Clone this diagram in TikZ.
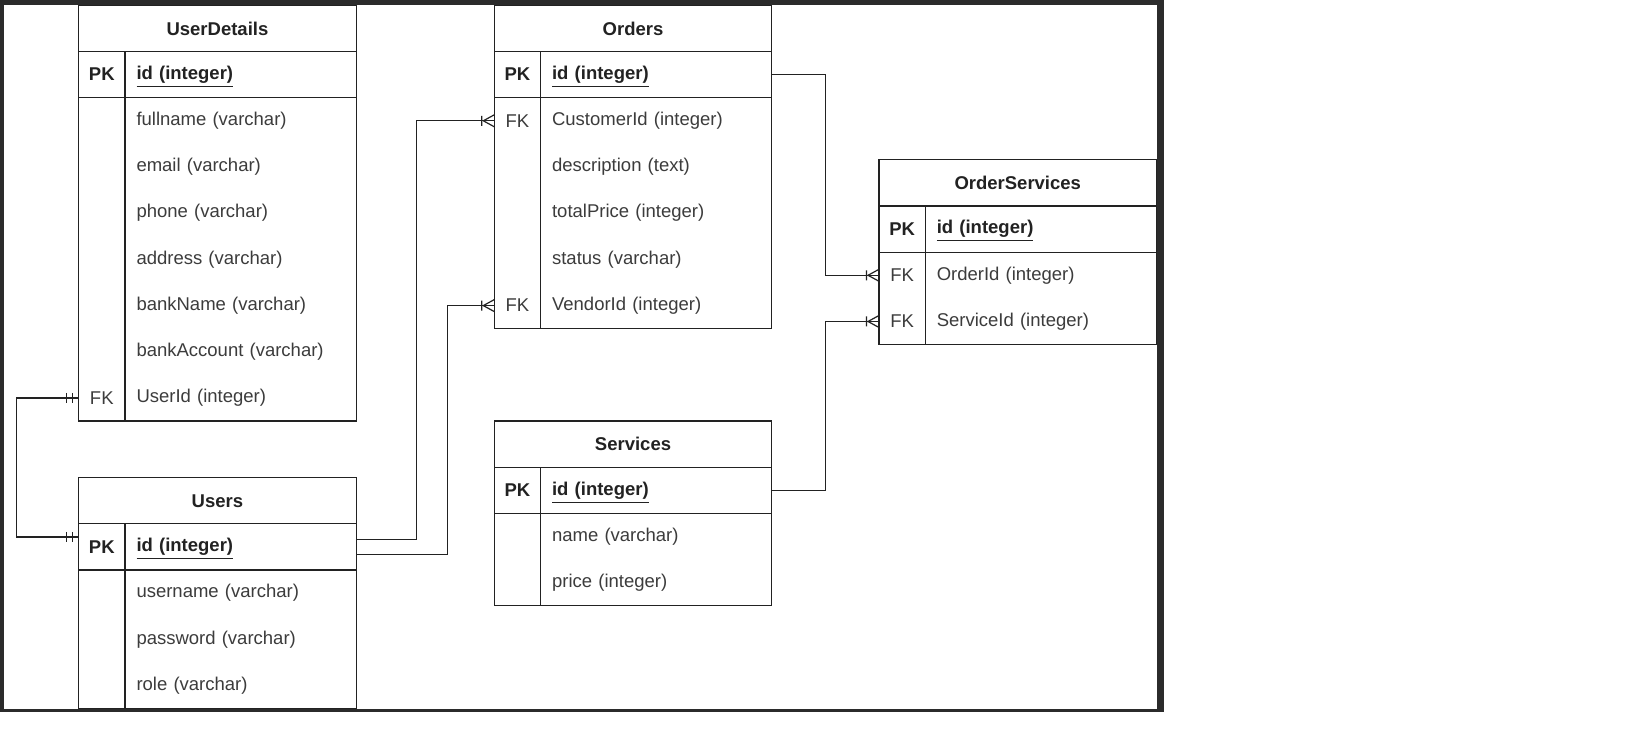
\documentclass[tikz,border=0pt]{standalone}
\usepackage{fontspec}
\setmainfont{Liberation Sans}
\usetikzlibrary{positioning}
\definecolor{framegray}{HTML}{2B2B2B}
\definecolor{linegray}{HTML}{222222}
\definecolor{textgray}{HTML}{3C3C3C}

\begin{document}
\begin{tikzpicture}[x=0.5pt,y=-0.5pt,
  tbl/.style={draw=linegray,line width=0.6pt},
  tabtitle/.style={tbl,anchor=north west,minimum width=138.75pt,minimum height=23.1pt,inner sep=0pt,outer sep=0pt,
    font=\fontsize{9.25}{11}\selectfont\bfseries,text=linegray},
  keycell/.style={minimum width=23.1pt,minimum height=23.1pt,inner sep=0pt,outer sep=0pt,
    font=\fontsize{9.25}{11}\selectfont,text=textgray},
  pkcell/.style={keycell,font=\fontsize{9.25}{11}\selectfont\bfseries,text=linegray},
  fieldcell/.style={minimum height=23.1pt,text width=104.05pt,text height=6.75pt,text depth=1.95pt,
    inner xsep=5.8pt,inner ysep=0pt,outer sep=0pt,align=left,
    font=\fontsize{9.25}{11}\selectfont,text=textgray},
  idfield/.style={fieldcell,font=\fontsize{9.25}{11}\selectfont\bfseries,text=linegray},
  rel/.style={draw=linegray,line width=0.6pt},
  mandone/.pic={\draw[rel] (-6,-5) -- (-6,5) (-12,-5) -- (-12,5);},
  crowfoot/.pic={\draw[rel] (-12.5,-5) -- (-12.5,5) (-11,0) -- (0,-6) (-11,0) -- (0,6);}
]
  \useasboundingbox (0,0) rectangle (1630,753);
  % page and dark frame
  \fill[white] (0,0) rectangle (1630,753);
  \fill[framegray] (0,0) rectangle (1164,712);
  \fill[white] (4,4.7) rectangle (1157,709.5);

  % UserDetails table
  \node[tabtitle] (udT) at (78.7,5.3) {UserDetails};
  \node[pkcell,anchor=north west] (udK0) at (udT.south west) {PK};
  \node[idfield,right=0pt of udK0] (udF0) {\underline{id (integer)}};
  \node[keycell,below=0pt of udK0] (udK1) {};
  \node[fieldcell,right=0pt of udK1] (udF1) {fullname (varchar)};
  \node[keycell,below=0pt of udK1] (udK2) {};
  \node[fieldcell,right=0pt of udK2] (udF2) {email (varchar)};
  \node[keycell,below=0pt of udK2] (udK3) {};
  \node[fieldcell,right=0pt of udK3] (udF3) {phone (varchar)};
  \node[keycell,below=0pt of udK3] (udK4) {};
  \node[fieldcell,right=0pt of udK4] (udF4) {address (varchar)};
  \node[keycell,below=0pt of udK4] (udK5) {};
  \node[fieldcell,right=0pt of udK5] (udF5) {bankName (varchar)};
  \node[keycell,below=0pt of udK5] (udK6) {};
  \node[fieldcell,right=0pt of udK6] (udF6) {bankAccount (varchar)};
  \node[keycell,below=0pt of udK6] (udK7) {FK};
  \node[fieldcell,right=0pt of udK7] (udF7) {UserId (integer)};
  \draw[tbl] (udT.south west) rectangle (udF7.south east);
  \draw[tbl] (udK0.south west) -- (udF0.south east);
  \draw[tbl] (udK0.north east) -- (udK7.south east);

  % Users table
  \node[tabtitle] (usT) at (78.7,477.7) {Users};
  \node[pkcell,anchor=north west] (usK0) at (usT.south west) {PK};
  \node[idfield,right=0pt of usK0] (usF0) {\underline{id (integer)}};
  \node[keycell,below=0pt of usK0] (usK1) {};
  \node[fieldcell,right=0pt of usK1] (usF1) {username (varchar)};
  \node[keycell,below=0pt of usK1] (usK2) {};
  \node[fieldcell,right=0pt of usK2] (usF2) {password (varchar)};
  \node[keycell,below=0pt of usK2] (usK3) {};
  \node[fieldcell,right=0pt of usK3] (usF3) {role (varchar)};
  \draw[tbl] (usT.south west) rectangle (usF3.south east);
  \draw[tbl] (usK0.south west) -- (usF0.south east);
  \draw[tbl] (usK0.north east) -- (usK3.south east);

  % Orders table
  \node[tabtitle] (ordT) at (494.3,5.3) {Orders};
  \node[pkcell,anchor=north west] (ordK0) at (ordT.south west) {PK};
  \node[idfield,right=0pt of ordK0] (ordF0) {\underline{id (integer)}};
  \node[keycell,below=0pt of ordK0] (ordK1) {FK};
  \node[fieldcell,right=0pt of ordK1] (ordF1) {CustomerId (integer)};
  \node[keycell,below=0pt of ordK1] (ordK2) {};
  \node[fieldcell,right=0pt of ordK2] (ordF2) {description (text)};
  \node[keycell,below=0pt of ordK2] (ordK3) {};
  \node[fieldcell,right=0pt of ordK3] (ordF3) {totalPrice (integer)};
  \node[keycell,below=0pt of ordK3] (ordK4) {};
  \node[fieldcell,right=0pt of ordK4] (ordF4) {status (varchar)};
  \node[keycell,below=0pt of ordK4] (ordK5) {FK};
  \node[fieldcell,right=0pt of ordK5] (ordF5) {VendorId (integer)};
  \draw[tbl] (ordT.south west) rectangle (ordF5.south east);
  \draw[tbl] (ordK0.south west) -- (ordF0.south east);
  \draw[tbl] (ordK0.north east) -- (ordK5.south east);

  % OrderServices table
  \node[tabtitle] (osT) at (879,159.8) {OrderServices};
  \node[pkcell,anchor=north west] (osK0) at (osT.south west) {PK};
  \node[idfield,right=0pt of osK0] (osF0) {\underline{id (integer)}};
  \node[keycell,below=0pt of osK0] (osK1) {FK};
  \node[fieldcell,right=0pt of osK1] (osF1) {OrderId (integer)};
  \node[keycell,below=0pt of osK1] (osK2) {FK};
  \node[fieldcell,right=0pt of osK2] (osF2) {ServiceId (integer)};
  \draw[tbl] (osT.south west) rectangle (osF2.south east);
  \draw[tbl] (osK0.south west) -- (osF0.south east);
  \draw[tbl] (osK0.north east) -- (osK2.south east);

  % Services table
  \node[tabtitle] (svT) at (494.3,421.1) {Services};
  \node[pkcell,anchor=north west] (svK0) at (svT.south west) {PK};
  \node[idfield,right=0pt of svK0] (svF0) {\underline{id (integer)}};
  \node[keycell,below=0pt of svK0] (svK1) {};
  \node[fieldcell,right=0pt of svK1] (svF1) {name (varchar)};
  \node[keycell,below=0pt of svK1] (svK2) {};
  \node[fieldcell,right=0pt of svK2] (svF2) {price (integer)};
  \draw[tbl] (svT.south west) rectangle (svF2.south east);
  \draw[tbl] (svK0.south west) -- (svF0.south east);
  \draw[tbl] (svK0.north east) -- (svK2.south east);

  % one-to-one: UserDetails.UserId -- Users.id
  \draw[rel] (udK7.west) -- ++(-62,0) |- ([yshift=5pt]usK0.west);
  \pic at (udK7.west) {mandone};
  \pic at ([yshift=5pt]usK0.west) {mandone};
  % Users.id to Orders.CustomerId and Orders.VendorId
  \draw[rel] ([yshift=3.8pt]usF0.east) -- ++(60.5,0) |- (ordK1.west);
  \pic at (ordK1.west) {crowfoot};
  \draw[rel] ([yshift=-3.6pt]usF0.east) -- ++(91.5,0) |- (ordK5.west);
  \pic at (ordK5.west) {crowfoot};
  % Orders.id and Services.id to OrderServices
  \draw[rel] (ordF0.east) -- ++(54,0) |- (osK1.west);
  \pic at (osK1.west) {crowfoot};
  \draw[rel] (svF0.east) -- ++(54,0) |- (osK2.west);
  \pic at (osK2.west) {crowfoot};
\end{tikzpicture}
\end{document}
